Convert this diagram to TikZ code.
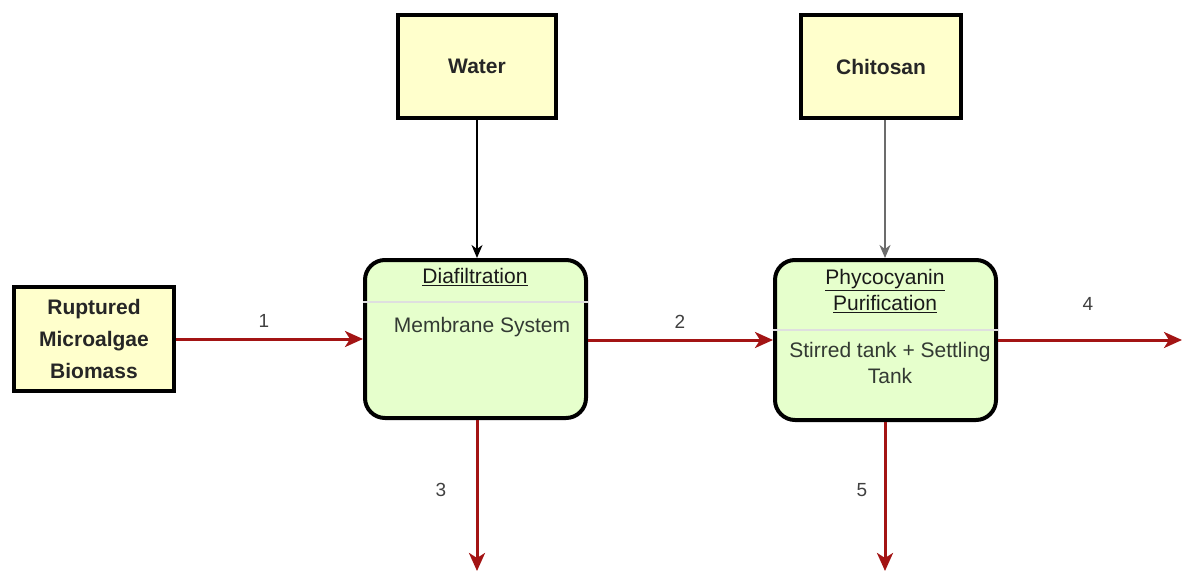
\documentclass[tikz,border=0pt]{standalone}
\usepackage{fontspec}
\setmainfont{Liberation Sans}
\usetikzlibrary{arrows.meta}
\definecolor{feedfill}{HTML}{FFFFCC}
\definecolor{unitfill}{HTML}{E6FFCC}
\definecolor{flowred}{HTML}{A31414}
\definecolor{bodytext}{HTML}{333A33}
\begin{document}
\begin{tikzpicture}[x=1pt,y=-1pt,
  feedbox/.style={draw=black, line width=4pt, fill=feedfill, inner sep=0pt,
    font=\fontsize{21}{32}\selectfont\bfseries, align=center, text=black!85},
  unitbox/.style={draw=black, line width=4pt, fill=unitfill, rounded corners=20pt,
    inner sep=0pt, minimum width=221pt},
  unittitle/.style={font=\fontsize{21}{25}\selectfont, align=center, text=black!90, inner sep=0pt},
  unitbody/.style={font=\fontsize{21}{26}\selectfont, align=center, text=bodytext, inner sep=0pt},
  divider/.style={draw=gray!25, line width=1.5pt},
  flow/.style={draw=flowred, line width=3pt, -{Stealth[length=18pt,width=16pt,inset=5pt]}},
  feedline/.style={line width=1.4pt, -{Stealth[length=13pt,width=11pt,inset=4pt]}},
  streamno/.style={font=\fontsize{19}{21}\selectfont, text=black!75, inner sep=0pt}
]
\useasboundingbox (0,0) rectangle (1182,572);

% feed boxes
\node[feedbox, minimum width=160pt, minimum height=104pt] (rupt) at (94,339)
  {Ruptured\\Microalgae\\Biomass};
\node[feedbox, minimum width=158pt, minimum height=103pt] (water) at (477,66.5) {Water};
\node[feedbox, minimum width=160pt, minimum height=103pt] (chit) at (881,66.5) {Chitosan};

% process units
\node[unitbox, minimum height=158pt] (diaf) at (475.5,339) {};
\node[unitbox, minimum height=160pt] (phyc) at (885.5,340) {};

% diafiltration labels and divider
\node[unittitle] (diaft) at (475,277) {\underline{Diafiltration}};
\draw[divider] (diaf.west |- 0,302) -- (diaf.east |- 0,302);
\node[unitbody] (diafb) at (482,327) {Membrane System};

% purification labels and divider
\node[unittitle] (phyct) at (885,291) {\underline{Phycocyanin}\\[1pt]\underline{Purification}};
\draw[divider] (phyc.west |- 0,330) -- (phyc.east |- 0,330);
\node[unitbody] (phycb) at (890,363) {Stirred tank + Settling\\Tank};

% outlet end points
\coordinate (out4) at (1182,340);
\coordinate (out3) at (477,571);
\coordinate (out5) at (885,571);

% feed connectors
\draw[feedline, draw=black] (water.south) -- (water.south |- diaf.north);
\draw[feedline, draw=gray!85!black, line width=1.8pt] (out5 |- chit.south) -- (out5 |- phyc.north);

% material flows
\draw[flow] (rupt.east) -- (rupt.east -| diaf.west);
\draw[flow] (diaf.east |- 0,340) -- (phyc.west |- 0,340);
\draw[flow] (phyc.east |- out4) -- (out4);
\draw[flow] (diaf.south -| out3) -- (out3);
\draw[flow] (phyc.south -| out5) -- (out5);

% stream numbers
\node[streamno] (s1) at (264,321) {1};
\node[streamno] (s2) at (680,322) {2};
\node[streamno] (s4) at (1088,304) {4};
\node[streamno] (s3) at (441,490) {3};
\node[streamno] (s5) at (862,490) {5};
\end{tikzpicture}
\end{document}
